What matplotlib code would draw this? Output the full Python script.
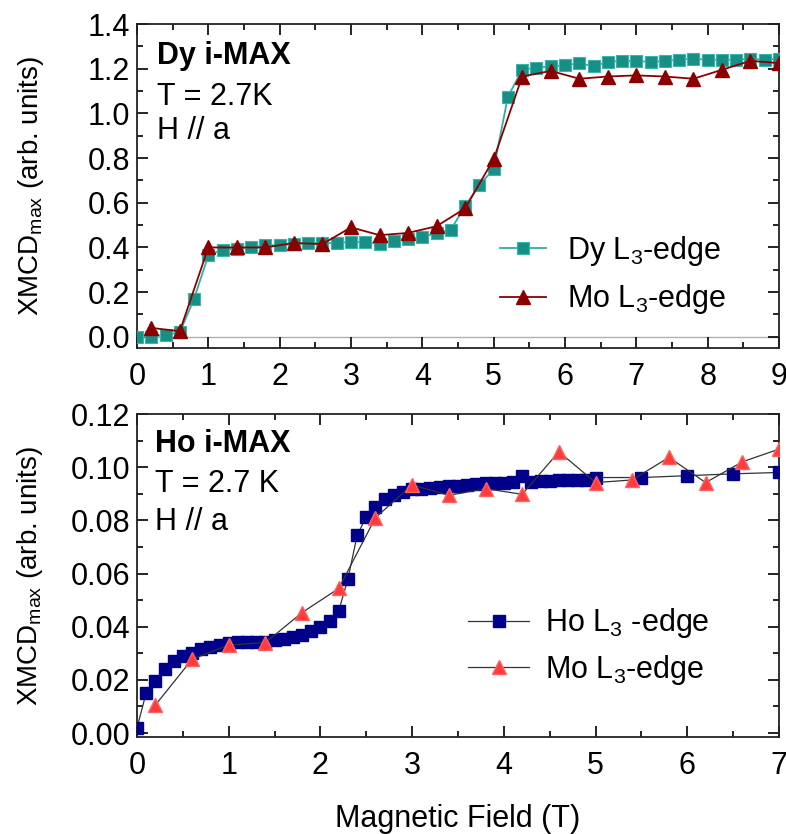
import matplotlib
matplotlib.use("Agg")
import matplotlib.pyplot as plt
from matplotlib.ticker import MultipleLocator, AutoMinorLocator, FormatStrFormatter

plt.rcParams['font.family'] = ['Liberation Sans', 'DejaVu Sans']
plt.rcParams['mathtext.fontset'] = 'custom'
plt.rcParams['mathtext.rm'] = 'Liberation Sans'
plt.rcParams['mathtext.it'] = 'Liberation Sans:italic'

# ---- Top panel: Dy i-MAX ----
dy_field = [0.0, 0.2, 0.4, 0.6, 0.8, 1.0, 1.2, 1.4, 1.6, 1.8, 2.0, 2.2, 2.4, 2.6, 2.8,
            3.0, 3.2, 3.4, 3.6, 3.8, 4.0, 4.2, 4.4, 4.6, 4.8, 5.0, 5.2, 5.4, 5.6, 5.8,
            6.0, 6.2, 6.4, 6.6, 6.8, 7.0, 7.2, 7.4, 7.6, 7.8, 8.0, 8.2, 8.4, 8.6, 8.8, 9.0]
dy_xmcd = [0.0, 0.0, 0.01, 0.02, 0.17, 0.365, 0.39, 0.395, 0.40, 0.41, 0.41, 0.415, 0.42, 0.42, 0.42,
           0.425, 0.425, 0.415, 0.43, 0.44, 0.445, 0.465, 0.48, 0.585, 0.68, 0.75, 1.075, 1.195, 1.205, 1.21,
           1.215, 1.225, 1.21, 1.23, 1.235, 1.235, 1.23, 1.235, 1.24, 1.245, 1.24, 1.24, 1.24, 1.245, 1.24, 1.245]
mo1_field = [0.2, 0.6, 1.0, 1.4, 1.8, 2.2, 2.6, 3.0, 3.4, 3.8, 4.2, 4.6, 5.0, 5.4, 5.8,
             6.2, 6.6, 7.0, 7.4, 7.8, 8.2, 8.6, 9.0]
mo1_xmcd = [0.04, 0.025, 0.40, 0.40, 0.40, 0.42, 0.415, 0.49, 0.455, 0.465, 0.495, 0.575, 0.795, 1.165, 1.19,
            1.155, 1.165, 1.17, 1.165, 1.155, 1.195, 1.235, 1.225]

# ---- Bottom panel: Ho i-MAX ----
ho_field = [0.0, 0.1, 0.2, 0.3, 0.4, 0.5, 0.6, 0.7, 0.8, 0.9, 1.0, 1.1, 1.2, 1.3, 1.4, 1.5, 1.6, 1.7,
            1.8, 1.9, 2.0, 2.1, 2.2, 2.3, 2.4, 2.5, 2.6, 2.7, 2.8, 2.9, 3.0, 3.1, 3.2, 3.3, 3.4, 3.5,
            3.6, 3.7, 3.8, 3.9, 4.0, 4.1, 4.2, 4.3, 4.4, 4.5, 4.6, 4.7, 4.8, 4.9, 5.0, 5.5, 6.0, 6.5, 7.0]
ho_xmcd = [0.0019, 0.0151, 0.0195, 0.0239, 0.0272, 0.0291, 0.0302, 0.0315, 0.0325, 0.0332, 0.0340,
           0.0344, 0.0344, 0.0344, 0.0344, 0.0348, 0.0353, 0.0360, 0.0369, 0.0382, 0.0400, 0.0420,
           0.0460, 0.0580, 0.0743, 0.0814, 0.0850, 0.0880, 0.0894, 0.0907, 0.0917, 0.0917, 0.0923,
           0.0925, 0.0928, 0.0930, 0.0933, 0.0935, 0.0940, 0.0940, 0.0942, 0.0943, 0.0965, 0.0945,
           0.0947, 0.0948, 0.0950, 0.0950, 0.0951, 0.0952, 0.0961, 0.0961, 0.0968, 0.0975, 0.0980]
mo2_field = [0.2, 0.6, 1.0, 1.4, 1.8, 2.2, 2.6, 3.0, 3.4, 3.8, 4.2, 4.6, 5.0, 5.4, 5.8, 6.2, 6.6, 7.0]
mo2_xmcd = [0.0105, 0.0277, 0.0331, 0.0340, 0.0453, 0.0544, 0.0810, 0.0933, 0.0894, 0.0919, 0.0898,
            0.1058, 0.0942, 0.0952, 0.1037, 0.0942, 0.1020, 0.1068]

TICK_FS = 22
LAB_FS = 20
TXT_FS = 22

fig = plt.figure(figsize=(7.86, 8.34), dpi=100)
ax1 = fig.add_axes([137/786, 1-348/834, 642/786, 324/834])
ax2 = fig.add_axes([137/786, 1-737/834, 642/786, 323/834])

def style(ax):
    ax.tick_params(which='both', direction='in', top=True, right=True, labelsize=TICK_FS, width=1.2)
    ax.tick_params(which='major', length=8)
    ax.tick_params(which='minor', length=4.5)
    ax.tick_params(axis='x', which='major', pad=10)
    ax.tick_params(axis='y', which='major', pad=5)
    ax.xaxis.set_minor_locator(AutoMinorLocator(2))
    ax.yaxis.set_minor_locator(AutoMinorLocator(2))
    for s in ax.spines.values():
        s.set_linewidth(1.3)
        s.set_color('#222222')

# top
teal = '#178f86'
dred = '#8b0000'
ax1.axhline(0, color='#b0b0b0', lw=1.0, zorder=0)
ax1.plot(dy_field, dy_xmcd, '-', color='#2bb0a5', lw=1.3, marker='s', ms=8.5,
         mfc=teal, mec='#3ab5aa', mew=0.8, label='Dy L$_3$-edge', zorder=3)
ax1.plot(mo1_field, mo1_xmcd, '-', color=dred, lw=1.3, marker='^', ms=10.5,
         mfc=dred, mec=dred, label='Mo L$_3$-edge', zorder=4)
ax1.set_xlim(0, 9)
ax1.set_ylim(-0.05, 1.4)
ax1.xaxis.set_major_locator(MultipleLocator(1))
ax1.yaxis.set_major_locator(MultipleLocator(0.2))
ax1.yaxis.set_major_formatter(FormatStrFormatter('%.1f'))
style(ax1)
ax1.set_ylabel('XMCD$_{\\mathrm{max}}$ (arb. units)', fontsize=LAB_FS, labelpad=30)
ax1.text(0.031, 0.900, 'Dy i-MAX', transform=ax1.transAxes, fontsize=TXT_FS, fontweight='bold', va='center')
ax1.text(0.031, 0.775, 'T = 2.7K', transform=ax1.transAxes, fontsize=TXT_FS, va='center')
ax1.text(0.031, 0.670, 'H // a', transform=ax1.transAxes, fontsize=TXT_FS, va='center')
ax1.legend(loc='center left', bbox_to_anchor=(0.565, 0.225), frameon=False, fontsize=TXT_FS,
           handlelength=1.5, handletextpad=0.7, labelspacing=0.47, borderpad=0, borderaxespad=0)

# bottom
navy = '#00008b'
red = '#ff3b3b'
ax2.plot(ho_field, ho_xmcd, '-', color='#333333', lw=0.9, marker='s', ms=8,
         mfc=navy, mec=navy, label='Ho L$_3$ -edge', zorder=3)
ax2.plot(mo2_field, mo2_xmcd, '-', color='#333333', lw=0.9, marker='^', ms=10.5,
         mfc=red, mec='#ff6060', label='Mo L$_3$-edge', zorder=4)
ax2.set_xlim(0, 7)
ax2.set_ylim(-0.0015, 0.12)
ax2.xaxis.set_major_locator(MultipleLocator(1))
ax2.yaxis.set_major_locator(MultipleLocator(0.02))
ax2.yaxis.set_major_formatter(FormatStrFormatter('%.2f'))
style(ax2)
ax2.set_ylabel('XMCD$_{\\mathrm{max}}$ (arb. units)', fontsize=LAB_FS, labelpad=18)
ax2.set_xlabel('Magnetic Field (T)', fontsize=22, labelpad=17)
ax2.text(0.028, 0.908, 'Ho i-MAX', transform=ax2.transAxes, fontsize=TXT_FS, fontweight='bold', va='center')
ax2.text(0.028, 0.784, 'T = 2.7 K', transform=ax2.transAxes, fontsize=TXT_FS, va='center')
ax2.text(0.028, 0.667, 'H // a', transform=ax2.transAxes, fontsize=TXT_FS, va='center')
ax2.legend(loc='center left', bbox_to_anchor=(0.516, 0.28), frameon=False, fontsize=TXT_FS,
           handlelength=2.0, handletextpad=0.5, labelspacing=0.4, borderpad=0, borderaxespad=0)

fig.savefig('out.png', dpi=100)
